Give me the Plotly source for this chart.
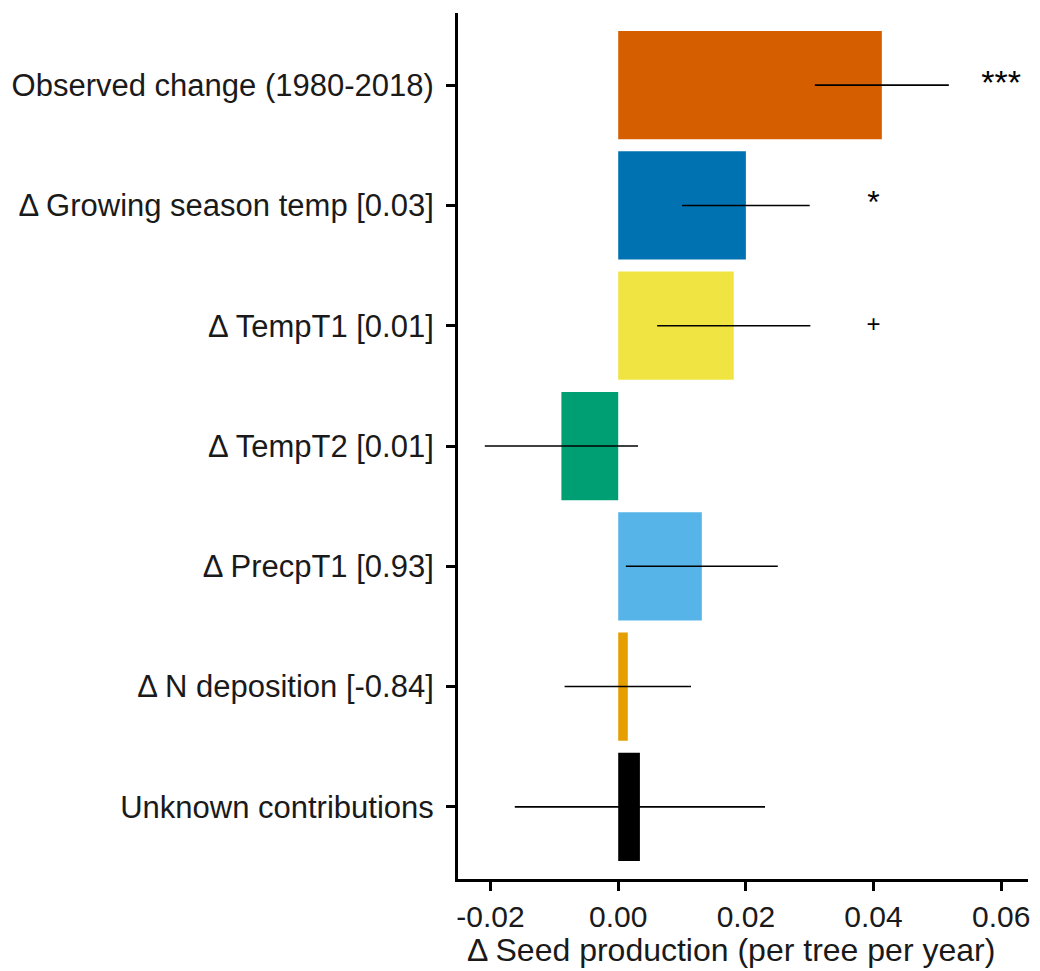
import plotly.graph_objects as go

# Drivers of change in seed production, listed top to bottom
drivers = [
    "Observed change (1980-2018)",
    "Δ Growing season temp [0.03]",
    "Δ TempT1 [0.01]",
    "Δ TempT2 [0.01]",
    "Δ PrecpT1 [0.93]",
    "Δ N deposition [-0.84]",
    "Unknown contributions",
]
effect = [0.0413, 0.0200, 0.0181, -0.0089, 0.0131, 0.0015, 0.0034]
err_half = [0.0105, 0.0100, 0.0120, 0.0120, 0.0119, 0.0099, 0.0196]
bar_colors = ["#D55E00", "#0072B2", "#F0E442", "#009E73", "#56B4E9", "#E69F00", "#000000"]

# Significance markers
sig_labels = ["***", "*", "+"]
sig_x = [0.06, 0.04, 0.04]
sig_drivers = drivers[:3]
sig_sizes = [34, 32, 24]

x_ticks = [-0.02, 0.00, 0.02, 0.04, 0.06]
x_ticktext = ["-0.02", "0.00", "0.02", "0.04", "0.06"]
x_title = "Δ Seed production (per tree per year)"

fig = go.Figure()
fig.add_trace(go.Bar(
    x=effect, y=drivers, orientation="h",
    marker=dict(color=bar_colors, line=dict(width=0)),
    width=0.9,
    error_x=dict(type="data", array=err_half, symmetric=True,
                 color="black", thickness=1.6, width=0),
    showlegend=False, hoverinfo="skip",
))
fig.add_trace(go.Scatter(
    x=sig_x, y=sig_drivers, mode="text", text=sig_labels,
    textfont=dict(family="Liberation Sans", size=sig_sizes, color="black"),
    textposition="middle center", showlegend=False, hoverinfo="skip",
))

fig.update_layout(
    width=1040, height=971,
    margin=dict(l=458, r=10, t=13, b=92),
    paper_bgcolor="white", plot_bgcolor="white",
    font=dict(family="Liberation Sans", size=31, color="#1a1a1a"),
    bargap=0.1,
)
# x-axis title placed as an annotation below the tick labels
fig.add_annotation(
    text=x_title, xref="paper", yref="paper", x=0.5, y=0,
    xanchor="center", yanchor="top", yshift=-51, xshift=-12,
    showarrow=False, font=dict(size=32, color="#1a1a1a"),
)
fig.update_xaxes(
    range=[-0.0251, 0.0642],
    tickvals=x_ticks, ticktext=x_ticktext,
    showline=True, linewidth=3, linecolor="black",
    ticks="outside", ticklen=9, tickwidth=3, tickcolor="black",
    showgrid=False, zeroline=False,
    tickfont=dict(size=30, color="#1a1a1a"),
)
fig.update_yaxes(
    type="category", categoryorder="array", categoryarray=drivers,
    range=[6.6, -0.6],
    showline=True, linewidth=3, linecolor="black",
    ticks="outside", ticklen=9, tickwidth=3, tickcolor="black",
    showgrid=False, zeroline=False,
    tickfont=dict(size=31, color="#1a1a1a"),
    ticklabelstandoff=6,
)

fig.write_html("out.html")
